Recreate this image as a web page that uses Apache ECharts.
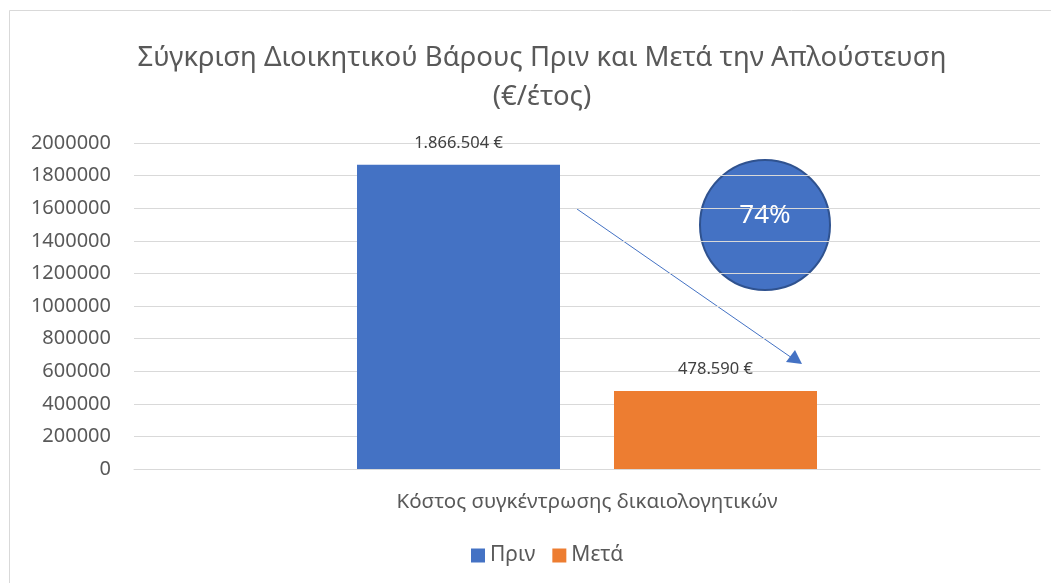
<!DOCTYPE html>
<html>
<head>
<meta charset="utf-8">
<script src="https://cdn.jsdelivr.net/npm/echarts@6/dist/echarts.min.js"></script>
<style>
html,body{margin:0;padding:0;background:#fff;}
#c{width:1051px;height:583px;}
</style>
</head>
<body>
<div id="c"></div>
<script>
const categories = ['Κόστος συγκέντρωσης δικαιολογητικών'];
const seriesNames = ['Πριν', 'Μετά'];
const beforeValues = [1866504];
const afterValues = [478590];
const yTicks = [0, 200000, 400000, 600000, 800000, 1000000, 1200000, 1400000, 1600000, 1800000, 2000000];
const reductionLabel = '74%';

const FONT = '"Noto Sans", "Open Sans", sans-serif';
const fmt = v => v.toLocaleString('de-DE') + ' €';

const chart = echarts.init(document.getElementById('c'), null, {renderer: 'canvas'});
const option = {
  backgroundColor: '#fff',
  animation: false,
  textStyle: {fontFamily: FONT},
  title: {
    text: 'Σύγκριση Διοικητικού Βάρους Πριν και Μετά την Απλούστευση\n(€/έτος)',
    left: 537, top: 34, textAlign: 'center',
    textStyle: {fontFamily: FONT, fontSize: 27.5, fontWeight: 'normal', color: '#595959', lineHeight: 39}
  },
  legend: {
    data: seriesNames,
    top: 540, left: 466,
    icon: 'rect', itemWidth: 14, itemHeight: 14, itemGap: 17,
    textStyle: {fontFamily: FONT, fontSize: 21, color: '#595959'}
  },
  grid: {left: 134, right: 11, top: 143, bottom: 114, containLabel: false},
  xAxis: {
    type: 'category', data: categories,
    axisTick: {show: false},
    axisLine: {lineStyle: {color: '#D9D9D9'}},
    axisLabel: {fontFamily: FONT, fontSize: 20.5, color: '#595959', margin: 23}
  },
  yAxis: {
    type: 'value', min: yTicks[0], max: yTicks[yTicks.length - 1], interval: yTicks[1] - yTicks[0],
    axisLine: {show: false}, axisTick: {show: false},
    splitLine: {lineStyle: {color: '#D9D9D9'}},
    axisLabel: {fontFamily: FONT, fontSize: 20, color: '#595959', margin: 23, formatter: v => String(v)}
  },
  series: [
    {
      name: seriesNames[0], type: 'bar', data: beforeValues, barWidth: 203, barGap: '26.6%',
      itemStyle: {color: '#4472C4'},
      label: {show: true, position: 'top', distance: 13, formatter: p => fmt(p.value),
        fontFamily: FONT, fontSize: 16.5, color: '#404040'}
    },
    {
      name: seriesNames[1], type: 'bar', data: afterValues, barWidth: 203,
      itemStyle: {color: '#ED7D31'},
      label: {show: true, position: 'top', distance: 13, formatter: p => fmt(p.value),
        fontFamily: FONT, fontSize: 16.5, color: '#404040'}
    }
  ],
  graphic: [
    {type: 'rect', shape: {x: 9.5, y: 10.5, width: 1060, height: 600}, style: {fill: 'none', stroke: '#D9D9D9', lineWidth: 1}, silent: true, z: -1},
    {type: 'line', shape: {x1: 577, y1: 209, x2: 792, y2: 358}, style: {stroke: '#4472C4', lineWidth: 1}},
    {type: 'polygon', shape: {points: [[802, 364], [786, 362], [795, 350]]}, style: {fill: '#4472C4'}},
    {type: 'circle', shape: {cx: 765, cy: 225, r: 65}, style: {fill: '#4472C4', stroke: '#2F528F', lineWidth: 2}},
    {type: 'text', x: 765, y: 216, style: {text: reductionLabel, fill: '#fff', fontFamily: FONT, fontSize: 26, align: 'center', verticalAlign: 'middle'}}
  ]
};
chart.setOption(option);
</script>
</body>
</html>
